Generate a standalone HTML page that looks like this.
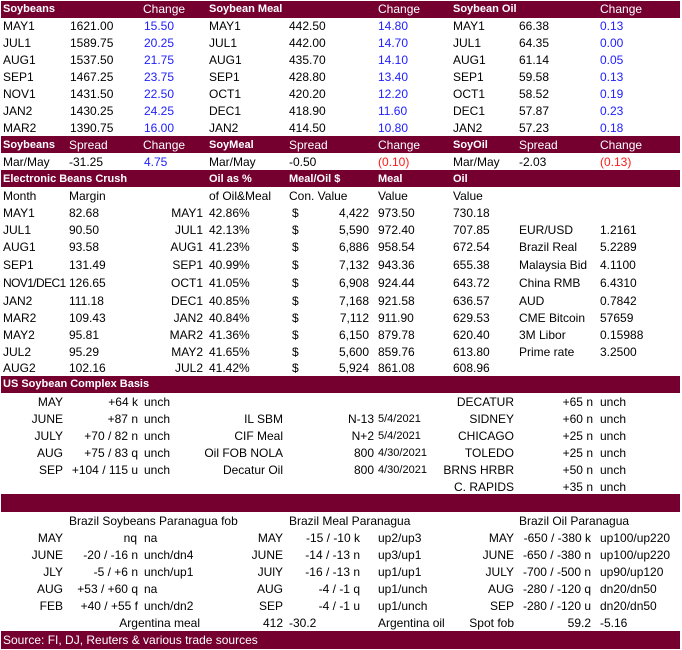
<!DOCTYPE html>
<html><head><meta charset="utf-8">
<style>
html,body{margin:0;padding:0;background:#fff;}
body{width:682px;height:650px;position:relative;overflow:hidden;font-family:"Liberation Sans",Arial,sans-serif;font-size:12px;color:#000;}
.bar{position:absolute;left:1px;width:679px;background:#750030;}
.t{position:absolute;white-space:nowrap;line-height:17px;height:17px;}
.r{text-align:right;}
.w{color:#fff;}
.b{font-weight:bold;font-size:11px;}
.bl{color:#2020ff;}
.rd{color:#ff1a1a;}
.sm{font-size:11px;}
</style></head><body>

<!-- bars -->
<div class="bar" style="top:1px;height:17px"></div>
<div class="bar" style="top:136px;height:17px"></div>
<div class="bar" style="top:170px;height:17px"></div>
<div class="bar" style="top:376px;height:17px"></div>
<div class="bar" style="top:494px;height:18px"></div>
<div class="bar" style="top:631px;height:18px"></div>

<!-- header 1 -->
<div class="t w b" style="top:1px;left:3px">Soybeans</div>
<div class="t w" style="top:1px;left:143px">Change</div>
<div class="t w b" style="top:1px;left:209px">Soybean Meal</div>
<div class="t w" style="top:1px;left:378px">Change</div>
<div class="t w b" style="top:1px;left:453px">Soybean Oil</div>
<div class="t w" style="top:1px;left:600px">Change</div>

<!-- futures rows -->
<div class="t" style="top:18px;left:3px">MAY1</div><div class="t" style="top:18px;left:70px">1621.00</div><div class="t bl" style="top:18px;left:144px">15.50</div><div class="t" style="top:18px;left:209px">MAY1</div><div class="t" style="top:18px;left:289px">442.50</div><div class="t bl" style="top:18px;left:378px">14.80</div><div class="t" style="top:18px;left:453px">MAY1</div><div class="t" style="top:18px;left:519px">66.38</div><div class="t bl" style="top:18px;left:600px">0.13</div>
<div class="t" style="top:35px;left:3px">JUL1</div><div class="t" style="top:35px;left:70px">1589.75</div><div class="t bl" style="top:35px;left:144px">20.25</div><div class="t" style="top:35px;left:209px">JUL1</div><div class="t" style="top:35px;left:289px">442.00</div><div class="t bl" style="top:35px;left:378px">14.70</div><div class="t" style="top:35px;left:453px">JUL1</div><div class="t" style="top:35px;left:519px">64.35</div><div class="t bl" style="top:35px;left:600px">0.00</div>
<div class="t" style="top:52px;left:3px">AUG1</div><div class="t" style="top:52px;left:70px">1537.50</div><div class="t bl" style="top:52px;left:144px">21.75</div><div class="t" style="top:52px;left:209px">AUG1</div><div class="t" style="top:52px;left:289px">435.70</div><div class="t bl" style="top:52px;left:378px">14.10</div><div class="t" style="top:52px;left:453px">AUG1</div><div class="t" style="top:52px;left:519px">61.14</div><div class="t bl" style="top:52px;left:600px">0.05</div>
<div class="t" style="top:69px;left:3px">SEP1</div><div class="t" style="top:69px;left:70px">1467.25</div><div class="t bl" style="top:69px;left:144px">23.75</div><div class="t" style="top:69px;left:209px">SEP1</div><div class="t" style="top:69px;left:289px">428.80</div><div class="t bl" style="top:69px;left:378px">13.40</div><div class="t" style="top:69px;left:453px">SEP1</div><div class="t" style="top:69px;left:519px">59.58</div><div class="t bl" style="top:69px;left:600px">0.13</div>
<div class="t" style="top:86px;left:3px">NOV1</div><div class="t" style="top:86px;left:70px">1431.50</div><div class="t bl" style="top:86px;left:144px">22.50</div><div class="t" style="top:86px;left:209px">OCT1</div><div class="t" style="top:86px;left:289px">420.20</div><div class="t bl" style="top:86px;left:378px">12.20</div><div class="t" style="top:86px;left:453px">OCT1</div><div class="t" style="top:86px;left:519px">58.52</div><div class="t bl" style="top:86px;left:600px">0.19</div>
<div class="t" style="top:103px;left:3px">JAN2</div><div class="t" style="top:103px;left:70px">1430.25</div><div class="t bl" style="top:103px;left:144px">24.25</div><div class="t" style="top:103px;left:209px">DEC1</div><div class="t" style="top:103px;left:289px">418.90</div><div class="t bl" style="top:103px;left:378px">11.60</div><div class="t" style="top:103px;left:453px">DEC1</div><div class="t" style="top:103px;left:519px">57.87</div><div class="t bl" style="top:103px;left:600px">0.23</div>
<div class="t" style="top:120px;left:3px">MAR2</div><div class="t" style="top:120px;left:70px">1390.75</div><div class="t bl" style="top:120px;left:144px">16.00</div><div class="t" style="top:120px;left:209px">JAN2</div><div class="t" style="top:120px;left:289px">414.50</div><div class="t bl" style="top:120px;left:378px">10.80</div><div class="t" style="top:120px;left:453px">JAN2</div><div class="t" style="top:120px;left:519px">57.23</div><div class="t bl" style="top:120px;left:600px">0.18</div>

<!-- header 2 -->
<div class="t w b" style="top:137px;left:3px">Soybeans</div>
<div class="t w" style="top:137px;left:69px">Spread</div>
<div class="t w" style="top:137px;left:143px">Change</div>
<div class="t w b" style="top:137px;left:209px">SoyMeal</div>
<div class="t w" style="top:137px;left:289px">Spread</div>
<div class="t w" style="top:137px;left:378px">Change</div>
<div class="t w b" style="top:137px;left:453px">SoyOil</div>
<div class="t w" style="top:137px;left:519px">Spread</div>
<div class="t w" style="top:137px;left:600px">Change</div>

<div class="t" style="top:154px;left:3px">Mar/May</div><div class="t" style="top:154px;left:69px">-31.25</div><div class="t bl" style="top:154px;left:144px">4.75</div><div class="t" style="top:154px;left:209px">Mar/May</div><div class="t" style="top:154px;left:289px">-0.50</div><div class="t rd" style="top:154px;left:378px">(0.10)</div><div class="t" style="top:154px;left:453px">Mar/May</div><div class="t" style="top:154px;left:519px">-2.03</div><div class="t rd" style="top:154px;left:600px">(0.13)</div>

<!-- crush header -->
<div class="t w b" style="top:171px;left:3px">Electronic Beans Crush</div>
<div class="t w b" style="top:171px;left:209px">Oil as %</div>
<div class="t w b" style="top:171px;left:289px">Meal/Oil $</div>
<div class="t w b" style="top:171px;left:378px">Meal</div>
<div class="t w b" style="top:171px;left:453px">Oil</div>

<div class="t" style="top:188px;left:3px">Month</div><div class="t" style="top:188px;left:69px">Margin</div><div class="t" style="top:188px;left:209px">of Oil&amp;Meal</div><div class="t" style="top:188px;left:289px">Con. Value</div><div class="t" style="top:188px;left:378px">Value</div><div class="t" style="top:188px;left:453px">Value</div>

<div class="t" style="top:205px;left:3px">MAY1</div><div class="t" style="top:205px;left:69px">82.68</div><div class="t r" style="top:205px;right:479px">MAY1</div><div class="t" style="top:205px;left:209px">42.86%</div><div class="t" style="top:205px;left:292px">$</div><div class="t r" style="top:205px;right:313px">4,422</div><div class="t" style="top:205px;left:378px">973.50</div><div class="t" style="top:205px;left:453px">730.18</div>
<div class="t" style="top:222px;left:3px">JUL1</div><div class="t" style="top:222px;left:69px">90.50</div><div class="t r" style="top:222px;right:479px">JUL1</div><div class="t" style="top:222px;left:209px">42.13%</div><div class="t" style="top:222px;left:292px">$</div><div class="t r" style="top:222px;right:313px">5,590</div><div class="t" style="top:222px;left:378px">972.40</div><div class="t" style="top:222px;left:453px">707.85</div><div class="t" style="top:222px;left:519px">EUR/USD</div><div class="t" style="top:222px;left:600px">1.2161</div>
<div class="t" style="top:239px;left:3px">AUG1</div><div class="t" style="top:239px;left:69px">93.58</div><div class="t r" style="top:239px;right:479px">AUG1</div><div class="t" style="top:239px;left:209px">41.23%</div><div class="t" style="top:239px;left:292px">$</div><div class="t r" style="top:239px;right:313px">6,886</div><div class="t" style="top:239px;left:378px">958.54</div><div class="t" style="top:239px;left:453px">672.54</div><div class="t" style="top:239px;left:519px">Brazil Real</div><div class="t" style="top:239px;left:600px">5.2289</div>
<div class="t" style="top:257px;left:3px">SEP1</div><div class="t" style="top:257px;left:69px">131.49</div><div class="t r" style="top:257px;right:479px">SEP1</div><div class="t" style="top:257px;left:209px">40.99%</div><div class="t" style="top:257px;left:292px">$</div><div class="t r" style="top:257px;right:313px">7,132</div><div class="t" style="top:257px;left:378px">943.36</div><div class="t" style="top:257px;left:453px">655.38</div><div class="t" style="top:257px;left:519px">Malaysia Bid</div><div class="t" style="top:257px;left:600px">4.1100</div>
<div class="t" style="top:275px;left:3px;letter-spacing:-0.6px">NOV1/DEC1</div><div class="t" style="top:275px;left:69px">126.65</div><div class="t r" style="top:275px;right:479px">OCT1</div><div class="t" style="top:275px;left:209px">41.05%</div><div class="t" style="top:275px;left:292px">$</div><div class="t r" style="top:275px;right:313px">6,908</div><div class="t" style="top:275px;left:378px">924.44</div><div class="t" style="top:275px;left:453px">643.72</div><div class="t" style="top:275px;left:519px">China RMB</div><div class="t" style="top:275px;left:600px">6.4310</div>
<div class="t" style="top:293px;left:3px">JAN2</div><div class="t" style="top:293px;left:69px">111.18</div><div class="t r" style="top:293px;right:479px">DEC1</div><div class="t" style="top:293px;left:209px">40.85%</div><div class="t" style="top:293px;left:292px">$</div><div class="t r" style="top:293px;right:313px">7,168</div><div class="t" style="top:293px;left:378px">921.58</div><div class="t" style="top:293px;left:453px">636.57</div><div class="t" style="top:293px;left:519px">AUD</div><div class="t" style="top:293px;left:600px">0.7842</div>
<div class="t" style="top:310px;left:3px">MAR2</div><div class="t" style="top:310px;left:69px">109.43</div><div class="t r" style="top:310px;right:479px">JAN2</div><div class="t" style="top:310px;left:209px">40.84%</div><div class="t" style="top:310px;left:292px">$</div><div class="t r" style="top:310px;right:313px">7,112</div><div class="t" style="top:310px;left:378px">911.90</div><div class="t" style="top:310px;left:453px">629.53</div><div class="t" style="top:310px;left:519px">CME Bitcoin</div><div class="t" style="top:310px;left:600px">57659</div>
<div class="t" style="top:327px;left:3px">MAY2</div><div class="t" style="top:327px;left:69px">95.81</div><div class="t r" style="top:327px;right:479px">MAR2</div><div class="t" style="top:327px;left:209px">41.36%</div><div class="t" style="top:327px;left:292px">$</div><div class="t r" style="top:327px;right:313px">6,150</div><div class="t" style="top:327px;left:378px">879.78</div><div class="t" style="top:327px;left:453px">620.40</div><div class="t" style="top:327px;left:519px">3M Libor</div><div class="t" style="top:327px;left:600px">0.15988</div>
<div class="t" style="top:344px;left:3px">JUL2</div><div class="t" style="top:344px;left:69px">95.29</div><div class="t r" style="top:344px;right:479px">MAY2</div><div class="t" style="top:344px;left:209px">41.65%</div><div class="t" style="top:344px;left:292px">$</div><div class="t r" style="top:344px;right:313px">5,600</div><div class="t" style="top:344px;left:378px">859.76</div><div class="t" style="top:344px;left:453px">613.80</div><div class="t" style="top:344px;left:519px">Prime rate</div><div class="t" style="top:344px;left:600px">3.2500</div>
<div class="t" style="top:360px;left:3px">AUG2</div><div class="t" style="top:360px;left:69px">102.16</div><div class="t r" style="top:360px;right:479px">JUL2</div><div class="t" style="top:360px;left:209px">41.42%</div><div class="t" style="top:360px;left:292px">$</div><div class="t r" style="top:360px;right:313px">5,924</div><div class="t" style="top:360px;left:378px">861.08</div><div class="t" style="top:360px;left:453px">608.96</div>

<!-- US basis -->
<div class="t w b" style="top:376px;left:3px">US Soybean Complex Basis</div>

<div class="t r" style="top:394px;right:619px">MAY</div><div class="t r" style="top:394px;right:544px">+64 k</div><div class="t" style="top:394px;left:144px">unch</div>
<div class="t r" style="top:394px;right:168px">DECATUR</div><div class="t r" style="top:394px;right:89px">+65 n</div><div class="t" style="top:394px;left:600px">unch</div>

<div class="t r" style="top:411px;right:619px">JUNE</div><div class="t r" style="top:411px;right:544px">+87 n</div><div class="t" style="top:411px;left:144px">unch</div>
<div class="t r" style="top:411px;right:399px">IL SBM</div><div class="t r" style="top:411px;right:308px">N-13</div><div class="t sm" style="top:411px;left:378px">5/4/2021</div>
<div class="t r" style="top:411px;right:168px">SIDNEY</div><div class="t r" style="top:411px;right:89px">+60 n</div><div class="t" style="top:411px;left:600px">unch</div>

<div class="t r" style="top:428px;right:619px">JULY</div><div class="t r" style="top:428px;right:544px">+70 / 82 n</div><div class="t" style="top:428px;left:144px">unch</div>
<div class="t r" style="top:428px;right:399px">CIF Meal</div><div class="t r" style="top:428px;right:308px">N+2</div><div class="t sm" style="top:428px;left:378px">5/4/2021</div>
<div class="t r" style="top:428px;right:168px">CHICAGO</div><div class="t r" style="top:428px;right:89px">+25 n</div><div class="t" style="top:428px;left:600px">unch</div>

<div class="t r" style="top:445px;right:619px">AUG</div><div class="t r" style="top:445px;right:544px">+75 / 83 q</div><div class="t" style="top:445px;left:144px">unch</div>
<div class="t r" style="top:445px;right:399px">Oil FOB NOLA</div><div class="t r" style="top:445px;right:308px">800</div><div class="t sm" style="top:445px;left:378px">4/30/2021</div>
<div class="t r" style="top:445px;right:168px">TOLEDO</div><div class="t r" style="top:445px;right:89px">+25 n</div><div class="t" style="top:445px;left:600px">unch</div>

<div class="t r" style="top:462px;right:619px">SEP</div><div class="t r" style="top:462px;right:544px">+104 / 115 u</div><div class="t" style="top:462px;left:144px">unch</div>
<div class="t r" style="top:462px;right:399px">Decatur Oil</div><div class="t r" style="top:462px;right:308px">800</div><div class="t sm" style="top:462px;left:378px">4/30/2021</div>
<div class="t r" style="top:462px;right:168px">BRNS HRBR</div><div class="t r" style="top:462px;right:89px">+50 n</div><div class="t" style="top:462px;left:600px">unch</div>

<div class="t r" style="top:479px;right:168px">C. RAPIDS</div><div class="t r" style="top:479px;right:89px">+35 n</div><div class="t" style="top:479px;left:600px">unch</div>

<!-- Brazil -->
<div class="t" style="top:513px;left:69px">Brazil Soybeans Paranagua fob</div>
<div class="t" style="top:513px;left:289px">Brazil Meal Paranagua</div>
<div class="t" style="top:513px;left:519px">Brazil Oil Paranagua</div>

<div class="t r" style="top:530px;right:619px">MAY</div><div class="t r" style="top:530px;right:545px">nq</div><div class="t" style="top:530px;left:144px">na</div>
<div class="t r" style="top:530px;right:399px">MAY</div><div class="t r" style="top:530px;right:322px">-15 / -10 k</div><div class="t" style="top:530px;left:378px">up2/up3</div>
<div class="t r" style="top:530px;right:168px">MAY</div><div class="t r" style="top:530px;right:91px">-650 / -380 k</div><div class="t" style="top:530px;left:600px">up100/up220</div>

<div class="t r" style="top:547px;right:619px">JUNE</div><div class="t r" style="top:547px;right:544px">-20 / -16 n</div><div class="t" style="top:547px;left:144px">unch/dn4</div>
<div class="t r" style="top:547px;right:399px">JUNE</div><div class="t r" style="top:547px;right:322px">-14 / -13 n</div><div class="t" style="top:547px;left:378px">up3/up1</div>
<div class="t r" style="top:547px;right:168px">JUNE</div><div class="t r" style="top:547px;right:91px">-650 / -380 n</div><div class="t" style="top:547px;left:600px">up100/up220</div>

<div class="t r" style="top:564px;right:619px">JLY</div><div class="t r" style="top:564px;right:544px">-5 / +6 n</div><div class="t" style="top:564px;left:144px">unch/up1</div>
<div class="t r" style="top:564px;right:399px">JUlY</div><div class="t r" style="top:564px;right:322px">-16 / -13 n</div><div class="t" style="top:564px;left:378px">up1/up1</div>
<div class="t r" style="top:564px;right:168px">JULY</div><div class="t r" style="top:564px;right:91px">-700 / -500 n</div><div class="t" style="top:564px;left:600px">up90/up120</div>

<div class="t r" style="top:581px;right:619px">AUG</div><div class="t r" style="top:581px;right:544px">+53 / +60 q</div><div class="t" style="top:581px;left:144px">na</div>
<div class="t r" style="top:581px;right:399px">AUG</div><div class="t r" style="top:581px;right:322px">-4 / -1 q</div><div class="t" style="top:581px;left:378px">up1/unch</div>
<div class="t r" style="top:581px;right:168px">AUG</div><div class="t r" style="top:581px;right:91px">-280 / -120 q</div><div class="t" style="top:581px;left:600px">dn20/dn50</div>

<div class="t r" style="top:598px;right:619px">FEB</div><div class="t r" style="top:598px;right:544px">+40 / +55 f</div><div class="t" style="top:598px;left:144px">unch/dn2</div>
<div class="t r" style="top:598px;right:399px">SEP</div><div class="t r" style="top:598px;right:322px">-4 / -1 u</div><div class="t" style="top:598px;left:378px">up1/unch</div>
<div class="t r" style="top:598px;right:168px">SEP</div><div class="t r" style="top:598px;right:91px">-280 / -120 u</div><div class="t" style="top:598px;left:600px">dn20/dn50</div>

<div class="t r" style="top:615px;right:482px">Argentina meal</div><div class="t r" style="top:615px;right:399px">412</div><div class="t" style="top:615px;left:289px">-30.2</div>
<div class="t" style="top:615px;left:378px">Argentina oil</div><div class="t r" style="top:615px;right:168px">Spot fob</div><div class="t r" style="top:615px;right:91px">59.2</div><div class="t" style="top:615px;left:600px">-5.16</div>

<!-- source -->
<div class="t w" style="top:632px;left:3px">Source: FI, DJ, Reuters &amp; various trade sources</div>

</body></html>
